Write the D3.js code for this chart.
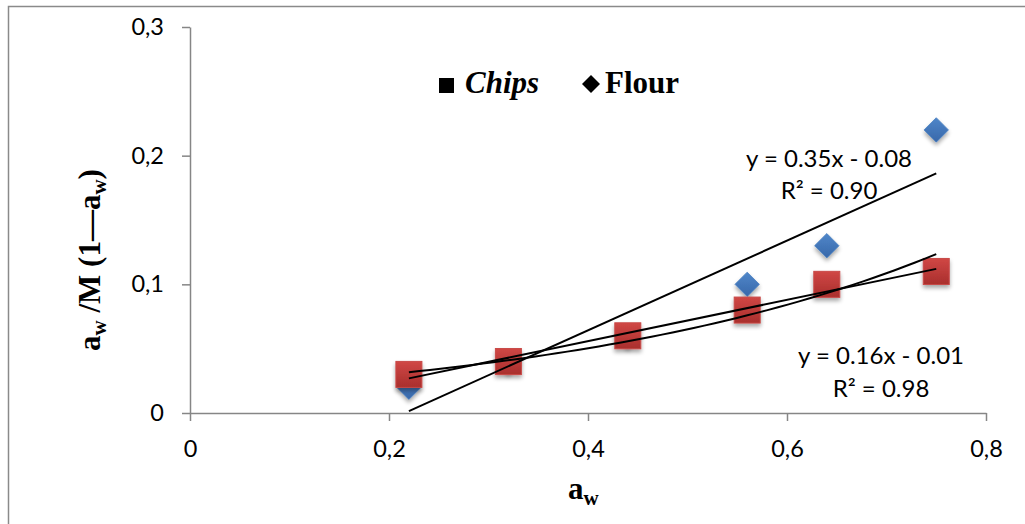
<!DOCTYPE html>
<html>
<head>
<meta charset="utf-8">
<script src="https://cdn.jsdelivr.net/npm/d3@7"></script>
<style>
  html, body { margin: 0; padding: 0; background: #fff; }
  svg { display: block; }
</style>
</head>
<body>
<svg id="chart" width="1025" height="524"></svg>
<script>
// ---- data ----
const aw = [0.22, 0.32, 0.44, 0.56, 0.64, 0.75];
const flour = [0.02, 0.04, 0.06, 0.10, 0.13, 0.22];
const chips = [0.03, 0.04, 0.06, 0.08, 0.10, 0.11];
const xTicks = [0, 0.2, 0.4, 0.6, 0.8];
const yTicks = [0, 0.1, 0.2, 0.3];
const flourEquation = ["y = 0.35x - 0.08", "R² = 0.90"];
const chipsEquation = ["y = 0.16x - 0.01", "R² = 0.98"];
const legendNames = ["Chips", "Flour"];

// ---- layout ----
const svg = d3.select("#chart");
const x = d3.scaleLinear().domain([0, 0.8]).range([190, 986]);
const y = d3.scaleLinear().domain([0, 0.3]).range([413, 27]);
const fmt = d => String(+d.toFixed(1)).replace(".", ",");

// outer frame
svg.append("rect").attr("x", 8.5).attr("y", 6.5).attr("width", 1100).attr("height", 600)
  .attr("fill", "none").attr("stroke", "#8a8a8a").attr("stroke-width", 1.5);

// defs: gradients & shadow
const defs = svg.append("defs");
const gR = defs.append("linearGradient").attr("id", "gRed").attr("x1", 0).attr("y1", 0).attr("x2", 0).attr("y2", 1);
gR.append("stop").attr("offset", "0%").attr("stop-color", "#d04745");
gR.append("stop").attr("offset", "100%").attr("stop-color", "#a92f2d");
const gB = defs.append("linearGradient").attr("id", "gBlue").attr("x1", 0).attr("y1", 0).attr("x2", 0).attr("y2", 1);
gB.append("stop").attr("offset", "0%").attr("stop-color", "#4f86c9");
gB.append("stop").attr("offset", "100%").attr("stop-color", "#3868aa");
const sh = defs.append("filter").attr("id", "shadow").attr("x", "-50%").attr("y", "-50%").attr("width", "200%").attr("height", "200%");
sh.append("feGaussianBlur").attr("in", "SourceAlpha").attr("stdDeviation", 2);
sh.append("feOffset").attr("dx", 0).attr("dy", 3).attr("result", "b");
sh.append("feComponentTransfer").append("feFuncA").attr("type", "linear").attr("slope", 0.35);
const mg = sh.append("feMerge");
mg.append("feMergeNode");
mg.append("feMergeNode").attr("in", "SourceGraphic");

// axes
const axisColor = "#868686";
const tickFont = "Lato, 'Open Sans', sans-serif";
const yAxis = svg.append("g").attr("transform", `translate(${x(0)},0)`)
  .call(d3.axisLeft(y).tickValues(yTicks).tickFormat(fmt).tickSize(8).tickPadding(18).tickSizeOuter(0));
const xAxis = svg.append("g").attr("transform", `translate(0,${y(0)})`)
  .call(d3.axisBottom(x).tickValues(xTicks).tickFormat(fmt).tickSize(8).tickPadding(19).tickSizeOuter(0));
[xAxis, yAxis].forEach(a => {
  a.select(".domain").attr("stroke", axisColor).attr("stroke-width", 1.5);
  a.selectAll(".tick line").attr("stroke", axisColor).attr("stroke-width", 1.5);
  a.selectAll(".tick text").attr("fill", "#000").attr("font-family", tickFont).attr("font-size", 23.5);
});

// markers: flour (diamonds) then chips (squares)
const pts = aw.map((a, i) => ({ x: a, f: flour[i], c: chips[i] }));
svg.append("g").selectAll("path").data(pts).join("path")
  .attr("d", d3.symbol().type(d3.symbolDiamond2 || d3.symbolDiamond).size(380))
  .attr("transform", d => `translate(${x(d.x)},${y(d.f)})`)
  .attr("fill", "url(#gBlue)").attr("stroke", "#4a80c2").attr("stroke-width", 0.8)
  .attr("filter", "url(#shadow)");
svg.append("g").selectAll("rect").data(pts).join("rect")
  .attr("x", d => x(d.x) - 13).attr("y", d => y(d.c) - 13)
  .attr("width", 26).attr("height", 26)
  .attr("fill", "url(#gRed)").attr("stroke", "#c84a48").attr("stroke-width", 1)
  .attr("filter", "url(#shadow)");

// trendlines (least-squares fits of the series)
function linFit(xs, ys) {
  const mx = d3.mean(xs), my = d3.mean(ys);
  const sxy = d3.sum(xs, (v, i) => (v - mx) * (ys[i] - my));
  const sxx = d3.sum(xs, v => (v - mx) * (v - mx));
  const b = sxy / sxx;
  return { b, a: my - b * mx };
}
const xMin = d3.min(aw), xMax = d3.max(aw);
const line = d3.line().x(d => x(d[0])).y(d => y(d[1]));
const fl = linFit(aw, flour);
const cl = linFit(aw, chips);
const ce = linFit(aw, chips.map(Math.log));
const samples = d3.range(0, 51).map(i => xMin + (xMax - xMin) * i / 50);
const trends = [
  [xMin, xMax].map(v => [v, fl.a + fl.b * v]),
  [xMin, xMax].map(v => [v, cl.a + cl.b * v]),
  samples.map(v => [v, Math.exp(ce.a + ce.b * v)])
];
svg.append("g").selectAll("path").data(trends).join("path")
  .attr("d", line).attr("fill", "none").attr("stroke", "#000").attr("stroke-width", 2);

// equation labels
function eq(lines, cx, base1, base2) {
  svg.append("text").attr("x", cx).attr("y", base1).attr("text-anchor", "middle")
    .attr("font-family", tickFont).attr("font-size", 24).text(lines[0]);
  svg.append("text").attr("x", cx).attr("y", base2).attr("text-anchor", "middle")
    .attr("font-family", tickFont).attr("font-size", 24).text(lines[1]);
}
eq(flourEquation, 829, 167, 199);
eq(chipsEquation, 881, 364, 397);

// legend
const serif = "'Liberation Serif', 'Times New Roman', serif";
svg.append("rect").attr("x", 439).attr("y", 78).attr("width", 15).attr("height", 15).attr("fill", "#000");
svg.append("text").attr("x", 465).attr("y", 93).attr("font-family", serif).attr("font-size", 31)
  .attr("font-weight", "bold").attr("font-style", "italic").text(legendNames[0]);
svg.append("path").attr("d", "M591,75 L600,84 L591,93 L582,84 Z").attr("fill", "#000");
svg.append("text").attr("x", 605).attr("y", 93).attr("font-family", serif).attr("font-size", 31)
  .attr("font-weight", "bold").text(legendNames[1]);

// axis titles
const xt = svg.append("text").attr("x", 568).attr("y", 499).attr("font-family", serif)
  .attr("font-size", 31).attr("font-weight", "bold");
xt.append("tspan").text("a");
xt.append("tspan").attr("font-size", 21).attr("dy", 6).text("w");

const yt = svg.append("text").attr("transform", "translate(100,260) rotate(-90)")
  .attr("text-anchor", "middle").attr("font-family", serif)
  .attr("font-size", 31).attr("font-weight", "bold");
yt.append("tspan").text("a");
yt.append("tspan").attr("font-size", 21).attr("dy", 6).text("w");
yt.append("tspan").attr("dy", -6).text(" /M (1—a");
yt.append("tspan").attr("font-size", 21).attr("dy", 6).text("w");
yt.append("tspan").attr("dy", -6).text(")");
</script>
</body>
</html>
